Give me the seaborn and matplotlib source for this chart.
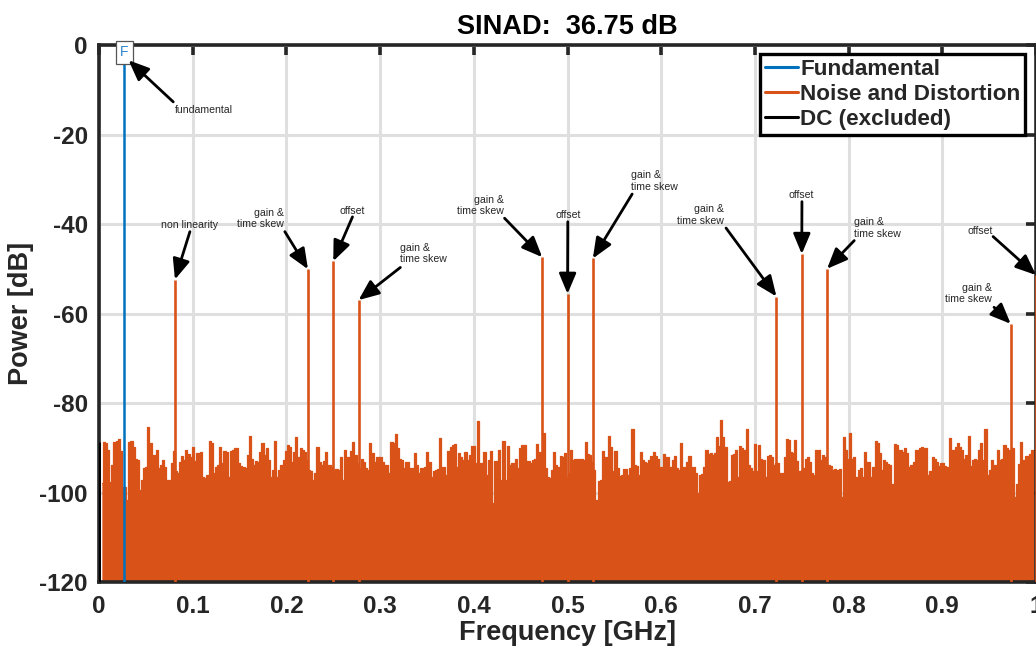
import numpy as np
import matplotlib
matplotlib.use("Agg")
import matplotlib.pyplot as plt
import seaborn as sns
from matplotlib.lines import Line2D

# ---------------------------------------------------------------- data
SINAD_DB = 36.75

FUND_GHZ = 0.027
FUND_DB = -1.6
DC_DB = -88.6

# distortion spurs of the interleaved converter
SPUR_GHZ = [0.081, 0.223, 0.250, 0.277, 0.473, 0.500, 0.527,
            0.723, 0.750, 0.777, 0.973, 1.000]
SPUR_DB = [-52.4, -50.1, -48.3, -57.0, -47.4, -55.6, -47.7,
           -56.2, -46.7, -50.0, -62.3, -51.4]
SPUR_LABELS = ["non linearity", "gain &\ntime skew", "offset", "gain &\ntime skew",
               "gain &\ntime skew", "offset", "gain &\ntime skew",
               "gain &\ntime skew", "offset", "gain &\ntime skew",
               "gain &\ntime skew", "offset"]

# noise floor, one value per displayed bin (dB)
NOISE_LOW = [
    -97.9, -88.6, -89.0, -90.4, -97.6, -93.9, -88.6, -88.5, -88.1, -90.7,
    -98.7, -98.7, -101.7, -88.6, -88.5, -89.8, -92.4, -92.7, -99.4, -97.2,
    -94.6, -94.4, -85.4, -88.9, -91.6, -91.6, -90.5, -94.6, -93.9, -92.7,
    -94.2, -97.2, -97.2, -93.5, -90.7, -95.3, -95.7, -93.1, -91.8, -92.7,
    -90.5, -91.4, -92.0, -89.8, -92.9, -91.2, -91.1, -90.9, -96.5, -96.8,
    -96.1, -88.5, -89.0, -95.7, -94.2, -93.9, -89.8, -93.5, -90.7, -90.9,
    -96.5, -90.7, -90.5, -90.1, -90.1, -93.3, -94.1, -94.2, -94.6, -91.6,
    -87.4, -92.4, -93.9, -92.9, -93.1, -90.9, -88.9, -91.6, -90.1, -92.7,
    -96.5, -95.0, -88.5, -96.5, -95.0, -93.9, -92.7, -90.7, -89.4, -89.8,
    -93.1, -90.9, -87.7, -92.0, -90.1, -90.5, -90.9, -92.7, -95.0, -95.3,
    -97.2, -95.7, -89.8, -93.1, -93.9, -93.0, -90.9, -93.9, -93.9, -94.2,
    -95.0, -94.8, -95.0, -92.0, -97.2, -90.5, -92.0, -92.0, -90.7, -88.6,
    -91.6, -93.5, -94.6, -92.4, -93.1, -94.6, -95.0, -88.9, -91.2, -93.1,
    -92.0, -92.1, -92.0, -93.1, -93.9, -93.9, -95.7, -88.6, -89.0, -87.0,
    -90.1, -92.4, -92.7, -94.6, -93.1, -93.1, -94.6, -94.6, -91.2, -93.9,
    -95.7, -94.6, -94.6,
]
NOISE_MID = [
    -94.4, -90.9, -93.1, -96.5, -95.3, -95.0, -94.8, -87.9, -94.2, -94.4,
    -96.1, -90.7, -89.8, -89.4, -89.2, -94.2, -91.2, -92.0, -92.7, -90.9,
    -92.7, -91.6, -89.6, -89.6, -93.5, -84.0, -93.5, -93.5, -90.9, -96.1,
    -92.7, -90.7, -102.4, -92.9, -92.9, -90.4, -97.2, -88.5, -97.2, -89.6,
    -93.9, -93.5, -93.5, -92.5, -94.6, -90.1, -89.4, -89.4, -93.0, -93.0,
    -93.5, -92.7, -92.6, -89.2, -90.9, -94.6, -86.6, -94.6, -96.5, -96.8,
    -95.0, -90.9, -93.9, -94.2, -91.8, -92.0, -91.2, -96.5, -95.7, -90.4,
    -92.7, -92.6, -92.4, -92.5, -92.6, -92.7, -88.8, -91.4, -91.6, -93.1,
    -95.0, -101.7, -97.4, -97.2, -90.7, -92.0, -92.0, -87.4, -89.8, -95.3,
    -90.7, -94.6, -96.3, -96.1, -94.8, -94.8, -96.1, -94.6, -85.8, -93.9,
    -94.1, -96.1, -90.9, -92.7, -93.1, -93.3, -92.7, -91.8, -90.9, -91.8,
    -92.4, -94.2, -94.4, -91.4, -92.0, -92.0, -94.2, -92.7, -91.8, -94.6,
    -95.0, -89.0, -94.4, -94.4, -93.1, -91.8, -94.4, -94.2, -95.7, -100.2,
    -96.0, -95.9, -94.4, -90.5, -91.4, -91.1, -91.6, -91.2, -87.7, -89.6,
    -83.8, -87.5, -89.8, -97.6, -97.4, -91.6, -91.4, -90.5, -96.5, -89.6,
    -90.1, -90.5,
]
NOISE_HIGH = [
    -85.9, -93.9, -94.6, -95.1, -89.2, -95.1, -89.4, -92.6, -92.7, -96.5,
    -91.8, -91.6, -92.0, -93.9, -93.3, -93.5, -95.7, -95.7, -92.0, -88.1,
    -88.3, -90.9, -91.2, -88.3, -93.0, -95.3, -95.0, -94.6, -92.4, -92.1,
    -93.1, -95.7, -96.1, -90.4, -90.5, -92.7, -91.6, -92.0, -93.9, -93.9,
    -94.1, -95.0, -94.8, -95.0, -94.8, -100.9, -87.5, -90.5, -92.4, -86.6,
    -92.4, -92.0, -96.5, -95.0, -94.6, -96.5, -90.9, -93.1, -93.1, -96.5,
    -94.2, -88.5, -89.0, -91.2, -95.0, -92.7, -93.1, -93.6, -93.9, -98.0,
    -89.2, -89.4, -90.4, -90.5, -90.9, -90.1, -91.2, -94.2, -93.9, -93.1,
    -90.5, -90.4, -90.1, -89.9, -90.1, -90.1, -96.0, -95.3, -92.1, -92.4,
    -93.1, -94.1, -93.3, -93.3, -94.1, -94.4, -87.9, -90.5, -90.5, -89.8,
    -88.9, -89.8, -90.5, -92.4, -91.6, -87.4, -94.1, -92.7, -92.6, -92.7,
    -90.5, -88.9, -92.7, -85.7, -96.1, -95.0, -92.7, -93.9, -93.9, -90.5,
    -92.7, -92.6, -89.4, -90.1, -90.4, -92.0, -90.1, -100.9, -98.0, -93.6,
    -88.6, -92.7, -91.8, -91.8, -91.4, -90.5, -90.5,
]

X_TICKS = [0, 0.1, 0.2, 0.3, 0.4, 0.5, 0.6, 0.7, 0.8, 0.9, 1.0]
X_TICK_LABELS = ["0", "0.1", "0.2", "0.3", "0.4", "0.5", "0.6", "0.7", "0.8", "0.9", "1"]
Y_TICKS = [0, -20, -40, -60, -80, -100, -120]

# ---------------------------------------------------------------- style
BLUE = "#0072BD"
ORANGE = "#D95319"
INK = "#262626"
FLOOR = -120

sns.set_theme(style="white")
plt.rcParams["font.family"] = ["Liberation Sans", "DejaVu Sans"]

fig = plt.figure(figsize=(10.36, 6.49), dpi=100)
ax = fig.add_axes([0.0956, 0.1032, 0.9044, 0.8274])

# ---------------------------------------------------------------- noise floor
noise = np.array(NOISE_LOW + NOISE_MID + NOISE_HIGH)
freq = np.linspace(0.003, 0.998, len(noise))
ax.fill_between(freq, FLOOR, noise, step="mid", color=ORANGE, lw=0, zorder=2)
sns.lineplot(x=freq, y=noise, ax=ax, color=ORANGE, lw=0.9,
             drawstyle="steps-mid", estimator=None, sort=False, zorder=2)

# spurs
ax.vlines(SPUR_GHZ, FLOOR, SPUR_DB, color=ORANGE, lw=1.9, zorder=3)
# DC bin and fundamental
ax.vlines([0.0], FLOOR, [DC_DB], color="black", lw=2.2, zorder=4)
ax.vlines([FUND_GHZ], FLOOR, [FUND_DB], color=BLUE, lw=1.8, zorder=4)
ax.text(FUND_GHZ, FUND_DB, "F", color="#2f86d0", fontsize=10, ha="center",
        va="center", zorder=6,
        bbox=dict(boxstyle="square,pad=0.32", fc="white", ec="#555555", lw=0.9))

# ---------------------------------------------------------------- annotations
ARROW = dict(arrowstyle="-|>,head_length=0.62,head_width=0.26", color="black",
             lw=2.0, mutation_scale=20, shrinkA=0, shrinkB=0)
TXT = dict(fontsize=7.6, color=INK, va="center", linespacing=1.15, zorder=7)

# (text x, text y, horizontal alignment, arrow tail x, arrow tail y)
layout = [
    (0.0970, -40.3, "center", 0.0970, -41.7),
    (0.1972, -38.8, "right", 0.1983, -41.7),
    (0.2703, -37.1, "center", 0.2705, -38.4),
    (0.3209, -46.6, "left", 0.3216, -49.7),
    (0.4318, -35.8, "right", 0.4328, -38.7),
    (0.5007, -38.0, "center", 0.5003, -39.5),
    (0.5679, -30.4, "left", 0.5690, -33.3),
    (0.6674, -38.0, "right", 0.6692, -40.9),
    (0.7495, -33.5, "center", 0.7502, -35.0),
    (0.8060, -40.9, "left", 0.8060, -43.7),
    (0.9534, -55.6, "right", 0.9552, -58.6),
    (0.9403, -41.5, "center", 0.9542, -42.8),
]
for (tx, ty, ha, ax0, ay0), f, p, lab in zip(layout, SPUR_GHZ, SPUR_DB, SPUR_LABELS):
    ax.text(tx, ty, lab, ha=ha, multialignment=ha, **TXT)
    ax.annotate("", xy=(f, p), xytext=(ax0, ay0), arrowprops=ARROW,
                annotation_clip=False, zorder=7)

ax.text(0.1114, -14.5, "fundamental", ha="center", **TXT)
ax.annotate("", xy=(FUND_GHZ + 0.0045, FUND_DB - 1.8), xytext=(0.0792, -12.7),
            arrowprops=ARROW, annotation_clip=False, zorder=7)

# ---------------------------------------------------------------- axes
ax.set_xlim(0, 1)
ax.set_ylim(FLOOR, 0)
ax.set_xticks(X_TICKS)
ax.set_xticklabels(X_TICK_LABELS)
ax.set_yticks(Y_TICKS)
ax.set_yticklabels([str(v) for v in Y_TICKS])
ax.grid(True, color="#dfdfdf", lw=2.2)
ax.set_axisbelow(True)
for s in ax.spines.values():
    s.set_visible(True)
    s.set_color(INK)
    s.set_linewidth(2.6)
ax.tick_params(direction="in", length=7, width=2.6, color=INK, top=True,
               right=True, labelsize=17.5, labelcolor=INK)
ax.tick_params(axis="y", pad=8)
ax.tick_params(axis="x", pad=9)
for lab in ax.get_xticklabels() + ax.get_yticklabels():
    lab.set_fontweight("bold")

ax.set_xlabel("Frequency [GHz]", fontsize=19.5, fontweight="bold", color=INK,
              labelpad=2)
ax.set_ylabel("Power [dB]", fontsize=19.5, fontweight="bold", color=INK,
              labelpad=4)
ax.set_title(f"SINAD:  {SINAD_DB:.2f} dB", fontsize=19.5, fontweight="bold",
             color="black", pad=8)

handles = [Line2D([], [], color=BLUE, lw=2.2),
           Line2D([], [], color=ORANGE, lw=2.2),
           Line2D([], [], color="black", lw=2.2)]
leg = ax.legend(handles, ["Fundamental", "Noise and Distortion", "DC (excluded)"],
                loc="upper right", bbox_to_anchor=(0.9885, 0.983), borderaxespad=0,
                prop=dict(weight="bold", size=16.2), handlelength=1.45,
                handletextpad=0.1, borderpad=0.22, labelspacing=0.18,
                fancybox=False, framealpha=1, edgecolor="black")
leg.get_frame().set_linewidth(2.4)
leg.set_zorder(10)

fig.savefig("out.png", dpi=100)
